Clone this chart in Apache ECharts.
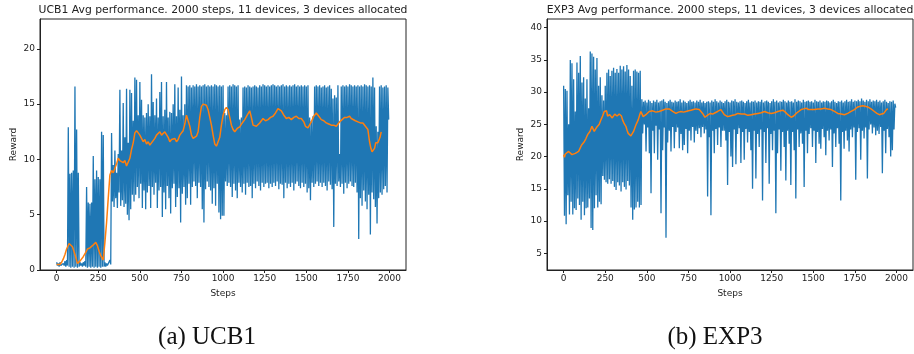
<!DOCTYPE html>
<html><head><meta charset="utf-8">
<script src="https://cdn.jsdelivr.net/npm/echarts@6/dist/echarts.min.js"></script>
<style>html,body{margin:0;padding:0;background:#fff}#c{width:914px;height:354px}</style>
</head><body><div id="c"></div>
<script>
// ---------- tick labels ----------
const stepTicks = [0, 250, 500, 750, 1000, 1250, 1500, 1750, 2000];
const ucbYTicks = [0, 5, 10, 15, 20];
const expYTicks = [5, 10, 15, 20, 25, 30, 35, 40];

const titles = [
  "UCB1 Avg performance. 2000 steps, 11 devices, 3 devices allocated",
  "EXP3 Avg performance. 2000 steps, 11 devices, 3 devices allocated"
];
const captions = ["(a) UCB1", "(b) EXP3"];

// ---------- UCB1 raw reward: upper excursions (steps 0,10,...,1990) ----------
const ucbHi = [
  0.7,0.6,0.7,0.5,0.6,0.8,0.9,
  12.9,8.7,8.8,9.0,16.6,12.7,8.8,
  0.7,0.6,0.7,0.8,
  7.5,6.1,6.0,6.1,10.3,8.2,9.0,8.4,8.2,12.5,12.2,
  0.7,0.6,0.5,0.9,
  12.4,
  9.5,10.8,8.8,10.5,16.3,10.8,15.1,12.0,16.4,11.5,16.3,16.0,13.5,
  17.4,17.2,14.0,17.0,15.4,14.0,13.8,14.2,15.0,13.9,
  17.7,15.2,14.0,15.5,13.8,16.1,17.0,13.9,14.5,17.0,
  13.8,14.3,14.2,15.0,16.8,13.9,16.5,14.5,17.5,14.0,
  15.0,
  16.7,16.6,16.7,16.5,16.7,16.6,16.8,16.6,16.7,16.6,
  16.7,16.8,16.6,16.7,16.6,16.7,16.6,16.8,16.7,16.6,
  16.7,16.6,
  16.7,14.2,14.0,16.6,16.7,16.6,16.8,16.7,16.6,16.7,
  13.6,13.8,16.5,16.6,16.5,16.7,16.6,16.5,16.6,16.7,
  16.6,16.5,16.7,16.6,16.8,16.7,16.6,16.7,16.6,16.7,
  16.8,16.7,16.6,16.7,16.6,16.7,16.8,16.6,16.7,16.6,
  16.7,16.6,16.7,16.8,16.6,16.7,16.6,16.7,16.6,16.7,
  16.6,16.7,13.8,13.5,13.9,16.6,16.7,16.6,16.7,16.5,
  16.6,16.7,16.5,16.6,16.7,16.4,15.5,15.8,15.6,16.7,
  10.5,16.6,16.7,16.6,16.7,16.6,16.8,16.7,16.6,16.7,
  16.6,16.7,16.6,16.7,16.6,16.8,16.7,16.6,16.7,16.6,
  17.4,16.5,13.0,12.5,16.6,16.7,16.5,16.6,16.7,16.5
];
// UCB1 raw reward: lower excursions (steps 5,15,...,1995)
const ucbLo = [
  0.4,0.3,0.4,0.3,0.4,0.3,0.4,
  0.3,0.2,0.3,0.2,0.3,0.2,0.3,
  0.4,0.3,0.4,0.3,
  0.2,0.3,0.2,0.3,0.2,0.3,0.2,0.3,0.2,0.3,0.3,
  0.3,0.4,0.3,0.5,
  6.2,
  5.7,6.5,5.6,7.0,5.8,6.3,5.7,6.0,5.0,4.5,5.5,6.8,6.2,
  6.8,7.5,6.5,7.8,5.6,7.2,5.5,7.0,7.6,5.6,
  7.5,6.8,7.9,5.6,7.2,7.5,4.8,7.0,5.5,7.6,
  6.5,5.1,7.4,7.8,5.7,6.6,7.4,4.3,6.9,7.5,
  5.9,
  6.5,7.8,5.9,7.5,8.0,7.6,6.5,7.9,7.5,5.5,
  4.3,7.3,8.0,7.5,7.2,6.0,7.4,5.8,7.8,5.2,
  4.6,4.9,
  4.9,8.0,7.6,7.9,7.5,6.6,7.8,7.2,6.5,7.9,
  7.5,7.0,7.8,6.8,7.9,7.5,7.6,6.5,7.8,7.4,
  8.0,7.6,7.2,7.9,7.5,7.8,7.9,7.4,7.8,7.5,
  7.9,7.6,8.0,7.3,7.8,7.7,6.5,7.9,7.4,7.8,
  7.5,7.9,7.2,7.8,8.0,7.6,7.4,7.9,7.5,7.8,
  7.0,7.4,6.3,7.9,7.5,7.8,8.0,7.6,7.9,7.5,
  7.9,7.6,7.2,8.0,7.7,7.3,3.9,7.8,7.6,8.0,
  7.5,7.8,6.9,7.9,7.4,7.8,8.0,7.6,7.5,7.9,
  7.0,2.8,6.5,5.8,7.2,6.2,5.5,6.8,3.2,7.0,
  6.4,5.7,4.2,6.5,7.0,6.8,7.3,7.6,7.0,13.6
];
// UCB1 moving average
const ucbMaSteps = [0,10,20,30,40,50,60,75,85,95,110,125,140,160,175,185,200,215,235,245,255,265,280,290,300,310,320,330,340,350,360,370,380,390,400,410,420,430,440,450,460,470,480,490,500,510,520,530,540,550,560,570,580,590,600,610,620,630,640,650,660,670,680,690,700,710,720,730,740,750,760,770,780,790,800,810,820,830,840,850,860,870,880,890,900,910,920,930,940,950,960,970,980,990,1000,1010,1020,1030,1040,1050,1060,1070,1085,1100,1115,1130,1145,1160,1170,1180,1190,1200,1220,1240,1255,1270,1285,1300,1315,1330,1340,1350,1365,1380,1395,1410,1425,1440,1455,1470,1485,1495,1510,1520,1530,1545,1560,1575,1590,1605,1620,1635,1650,1665,1680,1700,1715,1730,1745,1760,1770,1780,1795,1810,1825,1840,1855,1870,1880,1888,1895,1902,1910,1917,1923,1930,1936,1943,1950];
const ucbMaVals = [0.5,0.45,0.5,0.7,1.0,1.4,1.9,2.4,2.35,2.1,1.4,0.6,0.8,1.2,1.6,1.9,2.0,2.2,2.5,2.2,1.7,1.3,0.9,2.5,4.3,6.5,8.6,9.0,8.8,9.2,9.6,10.1,9.9,9.8,9.7,9.9,9.4,9.3,10.1,10.9,11.5,12.4,12.6,12.4,12.2,11.9,11.6,11.8,11.4,11.6,11.3,11.5,11.7,11.9,12.2,12.3,12.5,12.2,12.3,12.5,12.6,12.0,11.6,11.8,11.7,11.9,11.6,11.8,12.2,12.4,12.6,13.2,14.0,13.9,13.0,12.2,11.9,11.9,12.1,12.5,13.8,14.8,15.0,15.1,14.9,14.5,13.8,13.1,12.2,11.4,11.2,11.3,12.0,13.1,14.0,14.5,14.7,14.5,13.8,13.1,12.7,12.5,12.8,12.95,13.3,13.6,14.0,14.4,13.8,13.1,13.0,13.0,13.3,13.7,13.5,13.6,13.8,13.9,14.2,14.6,14.5,14.4,14.0,13.7,13.8,13.6,13.8,13.9,13.7,13.7,13.4,13.0,12.85,13.0,13.4,13.9,14.2,13.9,13.6,13.5,13.3,13.2,13.1,13.1,13.0,13.4,13.6,13.8,13.8,13.9,13.7,13.6,13.5,13.4,13.3,13.3,13.0,12.7,11.6,11.0,10.7,10.6,11.0,11.5,11.4,11.5,11.6,12.0,12.5];

// ---------- EXP3 raw reward: upper excursions (steps 0,10,...,1990) ----------
const expHi = [
  31.0,30.5,30.2,25.0,35.0,34.5,32.0,27.0,34.6,33.0,
  35.6,31.5,32.3,29.0,32.0,27.5,36.3,36.0,35.5,33.5,
  35.3,31.0,32.3,29.5,28.7,31.0,33.0,33.5,32.5,33.3,
  33.8,33.0,33.6,33.0,34.1,33.5,34.0,33.2,34.2,33.5,
  32.5,31.0,33.3,33.5,33.2,33.0,33.3,
  28.9,28.5,28.7,28.4,28.8,28.6,28.3,28.7,28.5,28.8,
  28.4,28.6,28.7,28.9,28.5,28.3,28.6,28.8,28.5,28.4,
  28.7,28.5,28.6,28.9,28.4,28.7,28.5,28.3,28.6,28.8,
  28.5,28.6,28.4,28.7,28.5,28.8,28.4,28.6,28.3,28.5,
  28.6,28.4,28.7,28.5,28.9,28.6,28.4,28.7,28.5,28.3,
  28.6,28.8,28.5,28.4,28.7,28.6,28.9,28.5,28.4,28.6,
  28.7,28.5,28.3,28.6,28.8,28.4,28.6,28.5,28.7,28.4,
  28.6,28.5,28.8,28.4,28.6,28.7,28.5,28.3,28.6,28.9,
  28.5,28.7,28.4,28.6,28.5,28.8,28.6,28.4,28.7,28.5,
  28.6,28.4,28.9,28.5,28.7,28.6,28.4,28.8,28.5,28.6,
  28.7,28.5,28.6,28.4,28.8,28.6,28.5,28.7,28.4,28.6,
  28.5,28.7,28.6,28.4,28.6,28.8,28.5,28.3,28.6,28.5,
  28.7,28.4,28.6,28.8,28.5,28.6,28.9,28.5,28.7,28.6,
  28.8,28.6,29.0,28.7,28.5,28.8,28.6,28.9,28.5,28.7,
  28.6,28.8,28.5,28.7,28.4,28.6,28.8,28.5,28.3,28.6,
  28.5,28.7,28.2
];
// EXP3 raw reward: lower excursions (steps 5,15,...,1995)
const expLo = [
  10.8,9.5,14.0,11.0,13.0,11.0,12.0,11.7,13.5,12.5,
  10.2,13.0,10.9,12.0,12.1,13.5,8.9,8.6,12.0,14.0,
  12.1,13.0,12.6,17.0,16.4,16.0,15.8,16.5,15.8,16.2,
  15.3,14.8,16.0,15.5,14.6,16.0,15.3,14.9,16.2,15.5,
  12.1,10.2,11.8,12.1,13.0,12.1,12.5,
  23.6,25.0,20.8,24.5,20.5,14.3,24.0,20.5,24.8,19.5,
  24.2,11.2,21.0,24.5,7.4,22.2,24.0,20.8,24.6,21.3,
  23.8,24.5,21.3,23.5,21.0,21.8,24.3,20.5,24.0,22.5,
  24.6,22.2,24.0,23.5,24.4,23.0,24.6,23.6,24.2,13.8,
  23.0,10.9,24.0,20.5,24.3,21.8,24.5,21.5,24.0,24.0,
  22.5,15.6,23.8,20.0,18.4,24.2,18.8,23.5,24.4,19.0,
  23.8,19.5,24.3,22.2,23.8,21.0,15.0,24.0,16.6,23.5,
  21.5,24.2,13.2,23.8,19.0,24.4,15.8,23.5,21.0,24.0,
  11.2,20.5,24.2,17.8,23.8,21.5,16.3,24.0,22.0,15.6,
  23.8,21.0,13.5,24.2,21.5,23.6,22.0,15.3,24.0,20.5,
  23.5,24.4,21.5,24.0,19.0,23.8,22.0,21.2,24.3,23.0,
  20.2,24.0,22.5,24.2,18.4,23.6,21.5,24.4,22.0,13.2,
  23.8,21.2,24.0,22.5,20.8,24.2,23.0,24.5,16.4,23.8,
  24.4,19.5,24.0,22.8,24.5,16.6,24.2,25.0,23.6,24.5,
  23.3,24.0,23.5,24.6,17.4,24.0,20.5,24.3,23.0,20.0,
  21.0,24.2,27.6
];
// EXP3 moving average
const expMaSteps = [0,5,10,15,20,30,40,50,60,70,80,90,100,108,116,124,134,144,150,158,164,170,177,184,192,200,206,214,224,234,244,252,258,264,270,277,284,292,300,307,314,321,328,334,340,347,354,364,374,381,388,396,404,412,420,427,434,441,448,456,464,471,478,486,494,504,514,524,534,544,554,564,574,584,594,604,614,624,634,645,655,665,675,690,705,720,735,750,765,780,795,805,815,825,835,849,859,869,882,895,910,925,935,945,955,965,975,985,1000,1015,1030,1047,1067,1087,1107,1127,1147,1167,1187,1207,1227,1247,1267,1287,1302,1317,1332,1347,1357,1367,1382,1397,1412,1427,1442,1457,1472,1487,1507,1527,1547,1567,1587,1607,1627,1647,1667,1687,1707,1727,1747,1767,1782,1797,1812,1827,1847,1867,1882,1897,1910,1923,1935,1943,1948];
const expMaVals = [20.3,19.9,20.4,20.6,20.5,20.8,20.6,20.3,20.4,20.5,20.6,20.8,21.0,21.8,21.6,22.3,22.8,23.4,23.2,23.9,24.2,24.7,24.3,23.9,24.2,24.6,24.4,25.0,25.7,26.3,27.0,27.3,27.1,26.3,26.0,26.5,26.5,26.0,26.2,26.6,26.7,26.3,26.2,26.6,26.8,26.3,25.7,25.1,24.7,24.1,23.6,23.3,23.2,23.4,23.9,24.4,24.9,25.2,25.7,26.4,27.0,26.7,26.2,26.0,26.5,26.7,27.0,26.8,27.1,27.0,26.9,27.1,27.0,27.1,27.2,27.3,27.4,27.5,27.4,27.3,27.0,26.9,26.7,26.9,27.0,26.9,27.0,27.1,27.2,27.3,27.4,27.5,27.3,27.0,26.7,26.1,26.3,26.5,26.7,26.6,26.8,27.0,27.2,27.3,27.0,26.5,26.3,26.2,26.3,26.4,26.5,26.7,26.6,26.6,26.4,26.5,26.6,26.7,26.8,27.0,26.8,26.7,26.8,27.0,27.1,27.2,26.9,26.5,26.3,26.1,26.3,26.7,27.0,27.3,27.4,27.5,27.3,27.3,27.3,27.4,27.4,27.5,27.4,27.3,27.0,26.7,26.6,26.5,26.7,27.0,27.3,27.7,27.8,27.9,27.8,27.7,27.4,27.0,26.7,26.5,26.6,26.7,27.0,27.4,27.3];

// ---------- build series data ----------
function zigzag(hi, lo) {
  const out = [];
  for (let i = 0; i < hi.length; i++) {
    out.push([i * 10, hi[i]]);
    out.push([i * 10 + 5, lo[i]]);
  }
  return out;
}
function zip(xs, ys) { return xs.map((x, i) => [x, ys[i]]); }

const BLUE = '#1f77b4', ORANGE = '#ff7f0e', INK = '#222';
const font = 'DejaVu Sans';
const plain = v => String(v);

function xAxis(gi) {
  return {
    type: 'value', gridIndex: gi, min: -100, max: 2099,
    name: 'Steps', nameLocation: 'middle', nameGap: 19,
    nameTextStyle: { fontFamily: font, fontSize: 9, color: INK },
    axisLine: { show: true, onZero: false, lineStyle: { color: INK, width: 1 } },
    axisTick: { show: true, length: 3, lineStyle: { color: INK }, customValues: stepTicks },
    axisLabel: { fontFamily: font, fontSize: 9, color: INK, margin: 4, customValues: stepTicks, formatter: plain },
    splitLine: { show: false }
  };
}
function yAxis(gi, min, max, ticks) {
  return {
    type: 'value', gridIndex: gi, min: min, max: max,
    name: 'Reward', nameLocation: 'middle', nameGap: 22,
    nameTextStyle: { fontFamily: font, fontSize: 9, color: INK },
    axisLine: { show: true, onZero: false, lineStyle: { color: INK, width: 1 } },
    axisTick: { show: true, length: 3, lineStyle: { color: INK }, customValues: ticks },
    axisLabel: { fontFamily: font, fontSize: 9, color: INK, margin: 5, customValues: ticks, formatter: plain },
    splitLine: { show: false }
  };
}

const chart = echarts.init(document.getElementById('c'), null, { renderer: 'canvas' });
chart.setOption({
  animation: false,
  backgroundColor: '#fff',
  title: [
    { text: titles[0], left: 223, top: 5, padding: 0, textAlign: 'center',
      textStyle: { fontFamily: font, fontSize: 10.8, fontWeight: 'normal', color: INK } },
    { text: titles[1], left: 730, top: 5, padding: 0, textAlign: 'center',
      textStyle: { fontFamily: font, fontSize: 10.8, fontWeight: 'normal', color: INK } },
    { text: captions[0], left: 207, top: 325, padding: 0, textAlign: 'center',
      textStyle: { fontFamily: 'Liberation Serif', fontSize: 25, fontWeight: 'normal', color: '#111' } },
    { text: captions[1], left: 715, top: 325, padding: 0, textAlign: 'center',
      textStyle: { fontFamily: 'Liberation Serif', fontSize: 25, fontWeight: 'normal', color: '#111' } }
  ],
  grid: [
    { left: 40, top: 19, width: 366, height: 251, show: true, borderColor: INK, borderWidth: 1, backgroundColor: 'transparent' },
    { left: 547, top: 19, width: 366, height: 251, show: true, borderColor: INK, borderWidth: 1, backgroundColor: 'transparent' }
  ],
  xAxis: [xAxis(0), xAxis(1)],
  yAxis: [yAxis(0, 0, 22.7, ucbYTicks), yAxis(1, 2.4, 41.35, expYTicks)],
  series: [
    { type: 'line', xAxisIndex: 0, yAxisIndex: 0, data: zigzag(ucbHi, ucbLo), showSymbol: false,
      lineStyle: { color: BLUE, width: 1.3 }, itemStyle: { color: BLUE }, z: 2, silent: true },
    { type: 'line', xAxisIndex: 0, yAxisIndex: 0, data: zip(ucbMaSteps, ucbMaVals), showSymbol: false,
      lineStyle: { color: ORANGE, width: 1.5 }, itemStyle: { color: ORANGE }, z: 3, silent: true },
    { type: 'line', xAxisIndex: 1, yAxisIndex: 1, data: zigzag(expHi, expLo), showSymbol: false,
      lineStyle: { color: BLUE, width: 1.3 }, itemStyle: { color: BLUE }, z: 2, silent: true },
    { type: 'line', xAxisIndex: 1, yAxisIndex: 1, data: zip(expMaSteps, expMaVals), showSymbol: false,
      lineStyle: { color: ORANGE, width: 1.5 }, itemStyle: { color: ORANGE }, z: 3, silent: true }
  ]
});
</script>
</body></html>
